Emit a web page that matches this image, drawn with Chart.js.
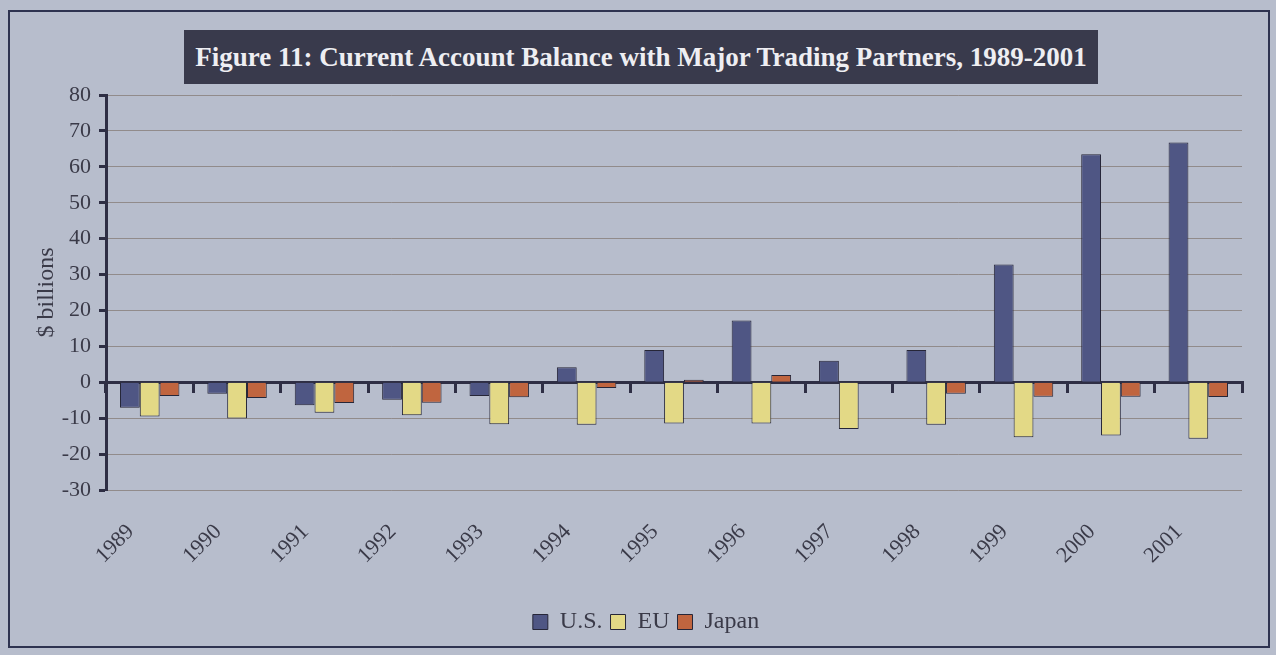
<!DOCTYPE html>
<html>
<head>
<meta charset="utf-8">
<script src="https://cdn.jsdelivr.net/npm/chart.js@4/dist/chart.umd.min.js"></script>
<style>
    body { margin: 0; background: #b7bdcc; }
    #wrap { position: relative; width: 1276px; height: 655px; overflow: hidden; }
    #frame { position: absolute; left: 8px; top: 10px; width: 1258px; height: 634px; border: 2px solid #2e3350; }
    #title {
        position: absolute; left: 184px; top: 30px; width: 914px; height: 54px;
        background: #393a4c; color: #eeeef2; font: bold 27px "Liberation Serif", serif;
        line-height: 54px; text-align: center; white-space: nowrap;
    }
    canvas { position: absolute; left: 0; top: 0; }
</style>
</head>
<body>
<div id="wrap">
    <div id="frame"></div>
    <canvas id="myChart" width="1276" height="655"></canvas>
    <div id="title">Figure 11: Current Account Balance with Major Trading Partners, 1989-2001</div>
</div>
<script>
// values, $ billions
const years = ['1989', '1990', '1991', '1992', '1993', '1994', '1995', '1996', '1997', '1998', '1999', '2000', '2001'];
const us = [-7.1, -3.2, -6.4, -4.9, -3.8, 4.2, 9.0, 17.2, 6.0, 9.0, 32.8, 63.5, 66.8];
const eu = [-9.5, -10.1, -8.5, -9.2, -11.7, -11.8, -11.5, -11.5, -13.0, -11.8, -15.3, -14.8, -15.7];
const japan = [-3.8, -4.4, -5.8, -5.7, -4.2, -1.6, 0.7, 2.0, 0.0, -3.2, -4.0, -4.0, -4.1];
const yTicks = [-30, -20, -10, 0, 10, 20, 30, 40, 50, 60, 70, 80];

const dark = '#2e2e44';
const textColor = '#3a3a48';
const serif = '"Liberation Serif", "Times New Roman", serif';

// legend sits a bit right of the canvas centre in the original
const legendShift = {
    id: 'legendShift',
    afterLayout: function (chart) {
        chart.legend.left += 15;
        chart.legend.right += 15;
    }
};

const ctx = document.getElementById('myChart');
new Chart(ctx, {
    type: 'bar',
    data: {
        labels: years,
        datasets: [{
                label: 'U.S.',
                data: us,
                backgroundColor: '#4f5684',
                borderColor: '#262638',
                borderWidth: 1
            }, {
                label: 'EU',
                data: eu,
                backgroundColor: '#e3d986',
                borderColor: '#262638',
                borderWidth: 1
            }, {
                label: 'Japan',
                data: japan,
                backgroundColor: '#c0653f',
                borderColor: '#262638',
                borderWidth: 1
            }]
    },
    options: {
        responsive: false,
        animation: false,
        layout: {
            padding: {top: 95, left: 20, right: 34, bottom: 11}
        },
        datasets: {
            bar: {
                categoryPercentage: 0.68,
                barPercentage: 1
            }
        },
        plugins: {
            tooltip: {enabled: false},
            legend: {
                position: 'bottom',
                labels: {
                    boxWidth: 15,
                    boxHeight: 15,
                    padding: 8,
                    color: textColor,
                    font: {family: serif, size: 24}
                }
            }
        },
        scales: {
            y: {
                min: -30,
                max: 80,
                afterBuildTicks: function (axis) {
                    axis.ticks = yTicks.map(v => ({value: v}));
                },
                afterFit: function (axis) {
                    axis.width = 86;
                },
                ticks: {
                    color: textColor,
                    padding: 8,
                    font: {family: serif, size: 22}
                },
                grid: {
                    color: 'rgba(125, 112, 104, 0.65)',
                    lineWidth: 1,
                    tickLength: 7,
                    tickWidth: 3,
                    tickColor: dark
                },
                border: {display: true, color: dark, width: 3},
                title: {
                    display: true,
                    text: '$ billions',
                    color: textColor,
                    padding: {top: 12, bottom: 0},
                    font: {family: serif, size: 24}
                }
            },
            x: {
                afterFit: function (axis) {
                    axis.height = 112;
                },
                ticks: {
                    minRotation: 45,
                    maxRotation: 45,
                    padding: 21,
                    labelOffset: -19,
                    color: textColor,
                    font: {family: serif, size: 22}
                },
                grid: {display: false},
                border: {display: false}
            },
            x0: {
                type: 'category',
                labels: years,
                position: {y: 0},
                ticks: {display: false},
                grid: {
                    offset: true,
                    drawOnChartArea: false,
                    tickLength: 9,
                    lineWidth: 3,
                    color: dark
                },
                border: {display: true, color: dark, width: 3}
            }
        }
    },
    plugins: [legendShift]
});
</script>
</body>
</html>
